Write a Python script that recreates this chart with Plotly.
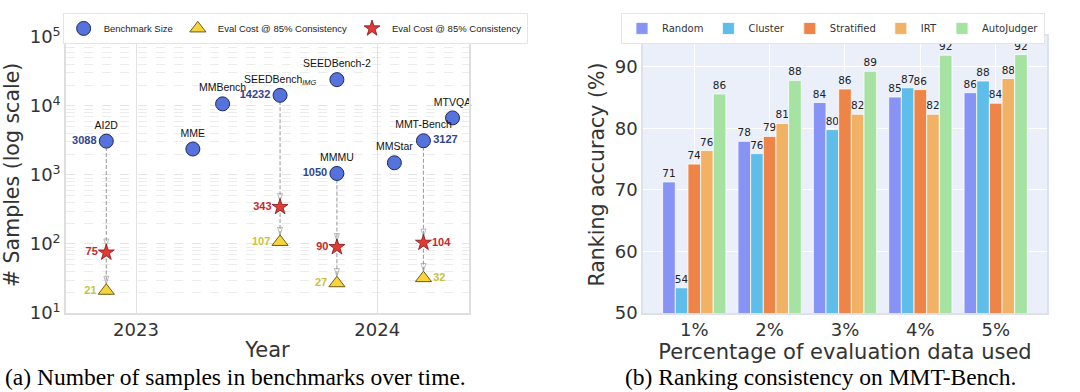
import plotly.graph_objects as go

# ---------------- Left panel data ----------------
bench_names = ["AI2D", "MME", "MMBench", "SEEDBench<sub><i>IMG</i></sub>", "SEEDBench-2",
               "MMMU", "MMStar", "MMT-Bench", "MTVQA"]
bench_dates = ["2022-11-17", "2023-03-28", "2023-05-12", "2023-08-07", "2023-11-01",
               "2023-11-01", "2024-01-27", "2024-03-11", "2024-04-24"]
bench_sizes = [3088, 2374, 10700, 14232, 24000, 1050, 1500, 3127, 6700]

cost_bench = ["AI2D", "SEEDBench<sub><i>IMG</i></sub>", "MMMU", "MMT-Bench"]
star_cost = [75, 343, 90, 104]      # red stars
tri_cost = [21, 107, 27, 32]        # yellow triangles
label_side = ["left", "left", "left", "right"]

year_ticks = ["2023-01-01", "2024-01-01"]
year_labels = ["2023", "2024"]
log_ticks = [10, 100, 1000, 10000, 100000]
log_labels = ["10<sup>1</sup>", "10<sup>2</sup>", "10<sup>3</sup>", "10<sup>4</sup>", "10<sup>5</sup>"]

# ---------------- Right panel data ----------------
pct_labels = ["1%", "2%", "3%", "4%", "5%"]
methods = ["Random", "Cluster", "Stratified", "IRT", "AutoJudger"]
acc_random = [71.3, 77.9, 84.2, 85.1, 85.8]
acc_cluster = [54.1, 75.9, 79.8, 86.6, 87.7]
acc_stratified = [74.2, 78.7, 86.4, 86.3, 84.1]
acc_irt = [76.4, 80.8, 82.3, 82.3, 88.1]
acc_autojudger = [85.6, 87.8, 89.3, 91.9, 92.0]
method_colors = ["#8793f5", "#5fbde9", "#ee8447", "#f2b266", "#a6e3a2"]

SANS = "Liberation Sans, Arial, sans-serif"
DJ = "DejaVu Sans, sans-serif"
SERIF = "Liberation Serif, Times New Roman, serif"

fig = go.Figure()

date_of = dict(zip(bench_names, bench_dates))
size_of = dict(zip(bench_names, bench_sizes))

# dashed arrows (benchmark size -> star -> triangle)
for b, s, t in zip(cost_bench, star_cost, tri_cost):
    d = date_of[b]
    for y0, y1, so in [(size_of[b], s, 6), (s, t, 7)]:
        fig.add_trace(go.Scatter(
            x=[d, d], y=[y0, y1], mode="lines+markers",
            line=dict(color="#a0a0a0", width=1.1, dash="4px,2px"),
            marker=dict(symbol="arrow-open", size=[0, 8], angleref="previous", standoff=so,
                        color="#9a9a9a", line=dict(color="#9a9a9a", width=1)),
            showlegend=False, hoverinfo="skip", xaxis="x", yaxis="y"))

# benchmark circles
fig.add_trace(go.Scatter(
    x=bench_dates, y=bench_sizes, mode="markers+text", text=bench_names,
    textposition="top center", textfont=dict(family=SANS, size=10.5, color="#111"),
    marker=dict(symbol="circle", size=14, color="#5572dd", line=dict(color="#1f2a5a", width=1)),
    name="Benchmark Size", legend="legend", legendrank=1, xaxis="x", yaxis="y", cliponaxis=False))

cost_dates = [date_of[b] for b in cost_bench]
fig.add_trace(go.Scatter(
    x=cost_dates, y=tri_cost, mode="markers",
    marker=dict(symbol="triangle-up", size=14, color="#f7d43e", line=dict(color="#6b5d1a", width=1)),
    name="Eval Cost @ 85% Consistency", legend="legend", legendrank=2, xaxis="x", yaxis="y", cliponaxis=False))
fig.add_trace(go.Scatter(
    x=cost_dates, y=star_cost, mode="markers",
    marker=dict(symbol="star", size=12, color="#e53935", line=dict(color="#7a1515", width=0.8)),
    name="Eval Cost @ 85% Consistency", legend="legend", legendrank=3, xaxis="x", yaxis="y", cliponaxis=False))

# value labels
pos = ["middle left" if s == "left" else "middle right" for s in label_side]
for yvals, col, msize in [([size_of[b] for b in cost_bench], "#2f4590", 14),
                          (star_cost, "#c62828", 12), (tri_cost, "#c9c43a", 14)]:
    fig.add_trace(go.Scatter(
        x=cost_dates, y=yvals, mode="markers+text", text=[str(v) for v in yvals],
        textposition=pos, textfont=dict(family=SANS, size=11, color=col, weight="bold"),
        marker=dict(size=msize, opacity=0), showlegend=False, hoverinfo="skip",
        xaxis="x", yaxis="y", cliponaxis=False))

# ---------------- Right bars ----------------
acc_all = [acc_random, acc_cluster, acc_stratified, acc_irt, acc_autojudger]
for m, vals, c in zip(methods, acc_all, method_colors):
    fig.add_trace(go.Bar(
        x=pct_labels, y=vals, name=m, marker=dict(color=c, line=dict(color="white", width=0.8)),
        texttemplate="%{y:.0f}", textposition="outside", constraintext="none",
        textfont=dict(family=DJ, size=10.5, color="#222"), cliponaxis=False,
        legend="legend2", xaxis="x2", yaxis="y2"))

fig.update_layout(
    width=1080, height=392, margin=dict(l=0, r=0, t=0, b=0),
    paper_bgcolor="white", plot_bgcolor="white",
    barmode="group", bargap=0.16, bargroupgap=0,
    font=dict(family=DJ, color="#333"),
    xaxis=dict(domain=[0.0611, 0.4343], type="date", range=["2022-09-17", "2024-05-19"],
               tickmode="array", tickvals=year_ticks, ticktext=year_labels,
               tickfont=dict(family=DJ, size=18, color="#333"),
               showgrid=True, gridcolor="#e2e2e2", zeroline=False,
               showline=True, mirror=True, linecolor="#dedede", linewidth=1.5,
               title=dict(text="Year", font=dict(family=DJ, size=21, color="#333"), standoff=3),
               automargin=False, anchor="y"),
    yaxis=dict(domain=[0.2015, 0.906], type="log", range=[1, 5],
               tickmode="array", tickvals=log_ticks, ticktext=log_labels,
               tickfont=dict(family=DJ, size=18, color="#333"),
               showgrid=True, gridcolor="#e4e4e4", griddash="dash",
               minor=dict(showgrid=True, dtick="D1", gridcolor="#ececec", griddash="dash"),
               showline=True, mirror=True, linecolor="#dedede", linewidth=1.5, zeroline=False,
               title=dict(text="# Samples (log scale)", font=dict(family=DJ, size=20.5, color="#333"), standoff=5),
               automargin=False, anchor="x"),
    xaxis2=dict(domain=[0.5954, 0.9694], type="category", range=[-0.68, 4.68],
                tickfont=dict(family=DJ, size=18, color="#333"),
                showgrid=True, gridcolor="white", gridwidth=1.2,
                showline=True, mirror=True, linecolor="#dde1ea", linewidth=1.5,
                title=dict(text="Percentage of evaluation data used", font=dict(family=DJ, size=21, color="#333"), standoff=3),
                automargin=False, anchor="y2"),
    yaxis2=dict(domain=[0.2015, 0.908], range=[50, 95], tickmode="array", tickvals=[50, 60, 70, 80, 90],
                tickfont=dict(family=DJ, size=18, color="#333"),
                showgrid=True, gridcolor="white", gridwidth=1.2, zeroline=False,
                showline=True, mirror=True, linecolor="#dde1ea", linewidth=1.5,
                title=dict(text="Ranking accuracy (%)", font=dict(family=DJ, size=20.5, color="#333"), standoff=5),
                automargin=False, anchor="x2"),
    legend=dict(orientation="h", x=0.058, y=0.967, xanchor="left", yanchor="top",
                bgcolor="white", bordercolor="#e4e4e4", borderwidth=1,
                font=dict(family=SANS, size=9.5, color="#222"), itemwidth=30,
                tracegroupgap=0),
    legend2=dict(orientation="h", x=0.575, y=0.967, xanchor="left", yanchor="top",
                 bgcolor="white", bordercolor="#e4e4e4", borderwidth=1,
                 font=dict(family=DJ, size=10, color="#333"), itemwidth=30),
    annotations=[
        dict(text="(a) Number of samples in benchmarks over time.", xref="paper", yref="paper",
             x=0.2176, y=0.038, xanchor="center", yanchor="middle", showarrow=False,
             font=dict(family=SERIF, size=23.5, color="black")),
        dict(text="(b) Ranking consistency on MMT-Bench.", xref="paper", yref="paper",
             x=0.760, y=0.038, xanchor="center", yanchor="middle", showarrow=False,
             font=dict(family=SERIF, size=23.5, color="black")),
    ],
)
# right panel background only inside its plot area
fig.add_shape(type="rect", xref="x2 domain", yref="y2 domain", x0=0, x1=1, y0=0, y1=1,
              fillcolor="#eaeffa", line=dict(width=0), layer="below")

fig.write_html("out.html", config={"displayModeBar": False},
               post_script="document.body.style.margin='0px';")
